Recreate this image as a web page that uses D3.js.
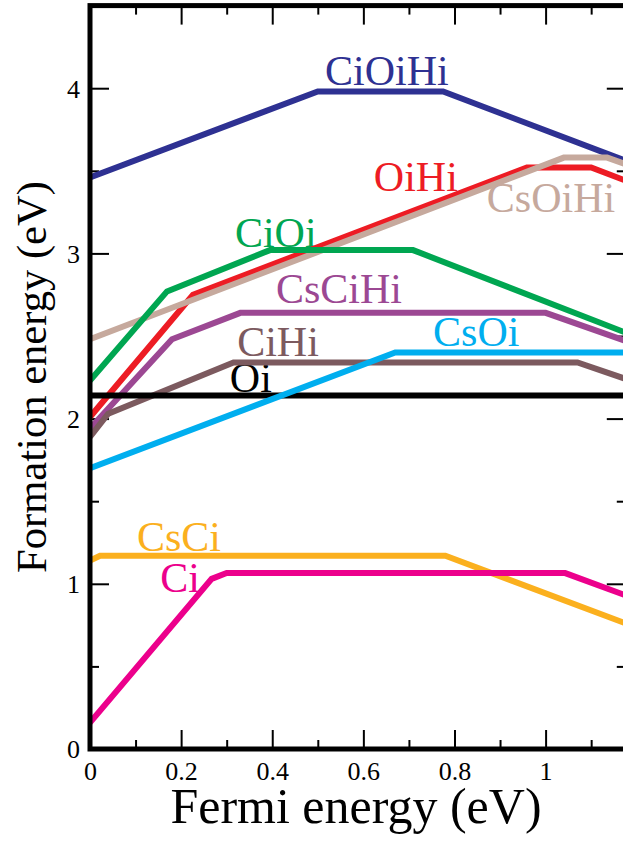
<!DOCTYPE html>
<html>
<head>
<meta charset="utf-8">
<script src="https://cdn.jsdelivr.net/npm/d3@7"></script>
<style>
  body { margin: 0; background: #fff; }
  svg { display: block; font-family: "Liberation Serif", "Times New Roman", Times, serif; }
</style>
</head>
<body>
<svg id="chart"></svg>
<script>
// Formation energy vs Fermi energy, one array of [Ef, E] vertices per defect
const CiOiHi = [[0, 3.46], [0.50, 3.98], [0.775, 3.98], [1.176, 3.56]];
const OiHi   = [[0, 2.01], [0.226, 2.75], [0.959, 3.52], [1.10, 3.52], [1.176, 3.44]];
const CsOiHi = [[0, 2.48], [1.04, 3.58], [1.135, 3.58], [1.176, 3.54]];
const CiOi   = [[0, 2.23], [0.169, 2.77], [0.395, 3.02], [0.709, 3.02], [1.176, 2.52]];
const CsCiHi = [[0, 1.94], [0.18, 2.48], [0.33, 2.64], [1.0, 2.64], [1.176, 2.47]];
const CiHi   = [[0, 1.89], [0.04, 2.03], [0.315, 2.34], [1.07, 2.34], [1.176, 2.24]];
const Oi     = [[0, 2.14], [1.176, 2.14]];
const CsOi   = [[0, 1.70], [0.67, 2.40], [1.176, 2.40]];
const CsCi   = [[0, 1.14], [0.022, 1.17], [0.78, 1.17], [1.176, 0.76]];
const Ci     = [[0, 0.16], [0.267, 1.03], [0.30, 1.065], [1.043, 1.065], [1.176, 0.93]];

const defectNames = ['CiOiHi', 'OiHi', 'CsOiHi', 'CiOi', 'CsCiHi', 'CiHi', 'Oi', 'CsOi', 'CsCi', 'Ci'];
const defectData = { CiOiHi, OiHi, CsOiHi, CiOi, CsCiHi, CiHi, Oi, CsOi, CsCi, Ci };

const xMajorTicks = [0, 0.2, 0.4, 0.6, 0.8, 1];
const xMinorTicks = [0.1, 0.3, 0.5, 0.7, 0.9, 1.1];
const yMajorTicks = [0, 1, 2, 3, 4];
const yMinorTicks = [0.5, 1.5, 2.5, 3.5];

const colors = {
  CiOiHi: '#2e3192', OiHi: '#ed1c24', CsOiHi: '#c6a99d', CiOi: '#00a651',
  CsCiHi: '#9c4893', CiHi: '#7c5a5f', Oi: '#000000', CsOi: '#00aeef',
  CsCi: '#fbb01e', Ci: '#ec008c',
};

// label anchors (left end of the baseline), in data units
const labelAt = {
  CiOiHi: [0.516, 4.02], OiHi: [0.623, 3.38], CsOiHi: [0.871, 3.25],
  CiOi: [0.318, 3.04], CsCiHi: [0.408, 2.70], CiHi: [0.323, 2.38],
  Oi: [0.307, 2.16], CsOi: [0.753, 2.44], CsCi: [0.103, 1.20], Ci: [0.154, 0.95],
};

const serif = '"Liberation Serif", "Times New Roman", Times, serif';
const width = 623;
const height = 843;
const plotLeft = 90, plotBottom = 749;
const x = d3.scaleLinear().domain([0, 1.176]).range([plotLeft, plotLeft + 1.176 * 455.6]);
const y = d3.scaleLinear().domain([0, 4.5]).range([plotBottom, plotBottom - 4.5 * 165.2]);
const plotRight = x.range()[1], plotTop = y.range()[1];

const svg = d3.select('#chart').attr('width', width).attr('height', height);

svg.append('clipPath').attr('id', 'plot-clip')
  .append('rect')
    .attr('x', plotLeft).attr('y', plotTop)
    .attr('width', plotRight - plotLeft).attr('height', plotBottom - plotTop);

// Ticks on all four sides, pointing in
const tickGroup = svg.append('g').attr('class', 'ticks');
const addAxis = (axis, tx, ty, keepText) => {
  const g = tickGroup.append('g')
    .attr('transform', `translate(${tx}, ${ty})`)
    .call(axis);
  g.select('.domain').remove();
  g.selectAll('.tick line').attr('stroke', '#000').attr('stroke-width', 2);
  if (!keepText) g.selectAll('.tick text').remove();
  return g;
};

const xLabels = addAxis(d3.axisBottom(x).tickValues(xMajorTicks).tickSize(-19)
  .tickFormat(d3.format('~g')), 0, plotBottom, true);
xLabels.attr('font-family', serif).attr('font-size', 26);
xLabels.selectAll('text')
  .attr('y', 31).attr('dy', 0)
  .attr('fill', '#000');
addAxis(d3.axisBottom(x).tickValues(xMinorTicks).tickSize(-9), 0, plotBottom);
addAxis(d3.axisTop(x).tickValues(xMajorTicks).tickSize(-19), 0, plotTop);
addAxis(d3.axisTop(x).tickValues(xMinorTicks).tickSize(-9), 0, plotTop);

const yLabels = addAxis(d3.axisLeft(y).tickValues(yMajorTicks).tickSize(-19)
  .tickFormat(d3.format('d')), plotLeft, 0, true);
yLabels.attr('font-family', serif).attr('font-size', 26);
yLabels.selectAll('text')
  .attr('x', -10).attr('dy', '0.34em')
  .attr('fill', '#000');
addAxis(d3.axisLeft(y).tickValues(yMinorTicks).tickSize(-9), plotLeft, 0);
addAxis(d3.axisRight(y).tickValues(yMajorTicks).tickSize(-19), plotRight, 0);
addAxis(d3.axisRight(y).tickValues(yMinorTicks).tickSize(-9), plotRight, 0);

// Defect labels
svg.append('g')
  .attr('font-family', serif)
  .selectAll('text')
  .data(defectNames)
  .enter().append('text')
    .attr('x', d => x(labelAt[d][0]))
    .attr('y', d => y(labelAt[d][1]))
    .attr('fill', d => colors[d])
    .attr('font-size', 42)
    .text(d => d);

// Lines
const line = d3.line().x(d => x(d[0])).y(d => y(d[1]));
svg.append('g')
  .attr('clip-path', 'url(#plot-clip)')
  .selectAll('path')
  .data(defectNames)
  .enter().append('path')
    .attr('d', d => line(defectData[d]))
    .attr('fill', 'none')
    .attr('stroke', d => colors[d])
    .attr('stroke-width', 6)
    .attr('stroke-linejoin', 'miter');

// Frame
svg.append('rect')
  .attr('x', plotLeft).attr('y', plotTop)
  .attr('width', plotRight - plotLeft).attr('height', plotBottom - plotTop)
  .attr('fill', 'none').attr('stroke', '#000').attr('stroke-width', 5);

// Axis titles
svg.append('text')
  .attr('x', 356)
  .attr('y', 823)
  .attr('text-anchor', 'middle')
  .attr('font-family', serif)
  .attr('font-size', 50)
  .text('Fermi energy (eV)');

svg.append('text')
  .attr('transform', 'translate(46, 377) rotate(-90)')
  .attr('text-anchor', 'middle')
  .attr('font-family', serif)
  .attr('font-size', 42.6)
  .text('Formation energy (eV)');
</script>
</body>
</html>
